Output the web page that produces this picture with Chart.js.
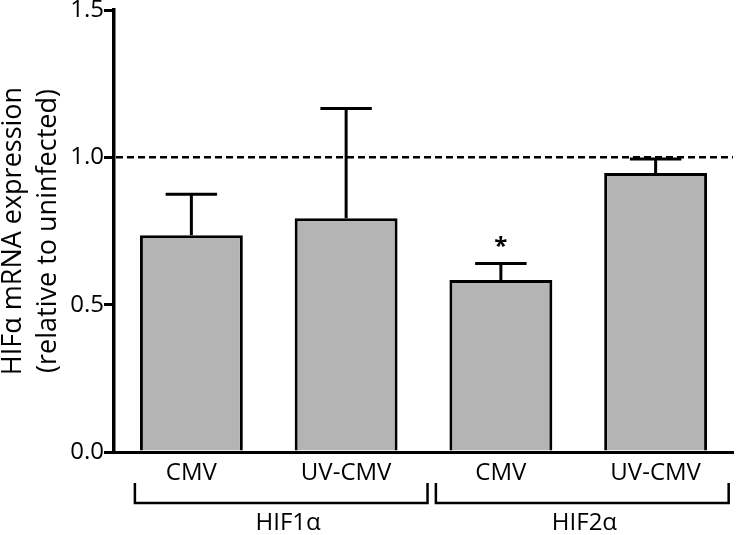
<!DOCTYPE html>
<html>
<head>
<meta charset="utf-8">
<script src="https://cdn.jsdelivr.net/npm/chart.js@4"></script>
<style>
    html, body { margin: 0; padding: 0; background: #fff; }
    #wrap { width: 736px; height: 535px; }
</style>
</head>
<body>
<div id="wrap"><canvas id="chart"></canvas></div>
<script>
// Values
const categories = ['CMV', 'UV-CMV', 'CMV', 'UV-CMV'];
const meanValues = [0.736, 0.793, 0.584, 0.947];
const semValues = [0.139, 0.373, 0.056, 0.047];
const significance = ['', '', '*', ''];
const groupLabels = ['HIF1α', 'HIF2α'];
const yTicks = [0, 0.5, 1.0, 1.5];
const referenceLevel = 1.0;

const FONT = '"Open Sans", "Noto Sans", sans-serif';

// Bracket spans under the axis, in category units
const groupSpans = [[-0.365, 1.526], [1.58, 3.472]];
const groupCenters = [0.625, 2.54];

const extras = {
    id: 'extras',
    afterDatasetsDraw(chart) {
        const { ctx, chartArea, scales: { x, y } } = chart;
        const meta = chart.getDatasetMeta(0);
        ctx.save();
        ctx.strokeStyle = '#000';
        ctx.fillStyle = '#000';
        ctx.lineWidth = 3;

        // error bars (upper only) and significance marks
        meta.data.forEach((bar, i) => {
            const top = y.getPixelForValue(meanValues[i] + semValues[i]);
            const half = bar.width / 4;
            ctx.beginPath();
            ctx.moveTo(bar.x, bar.y);
            ctx.lineTo(bar.x, top);
            ctx.moveTo(bar.x - half, top);
            ctx.lineTo(bar.x + half, top);
            ctx.stroke();
            if (significance[i]) {
                ctx.font = 'bold 24px ' + FONT;
                ctx.textAlign = 'center';
                ctx.textBaseline = 'middle';
                ctx.fillText(significance[i], bar.x, top - 16);
            }
        });

        // dashed line at the uninfected level
        const yRef = y.getPixelForValue(referenceLevel);
        ctx.lineWidth = 2.5;
        ctx.setLineDash([7, 4]);
        ctx.beginPath();
        ctx.moveTo(chartArea.left + 2, yRef);
        ctx.lineTo(chartArea.right, yRef);
        ctx.stroke();
        ctx.restore();
    },
    afterDraw(chart) {
        const { ctx, chartArea, scales: { x } } = chart;
        const yTop = chartArea.bottom + 31;
        const yLine = chartArea.bottom + 51;
        ctx.save();
        ctx.strokeStyle = '#000';
        ctx.fillStyle = '#000';
        ctx.lineWidth = 2.5;
        ctx.font = '24px ' + FONT;
        ctx.textAlign = 'center';
        ctx.textBaseline = 'middle';
        groupSpans.forEach(([a, b], i) => {
            const x0 = x.getPixelForValue(a);
            const x1 = x.getPixelForValue(b);
            ctx.beginPath();
            ctx.moveTo(x0, yTop);
            ctx.lineTo(x0, yLine);
            ctx.lineTo(x1, yLine);
            ctx.lineTo(x1, yTop);
            ctx.stroke();
            ctx.fillText(groupLabels[i], x.getPixelForValue(groupCenters[i]), chartArea.bottom + 71);
        });
        ctx.restore();
    }
};

new Chart(document.getElementById('chart'), {
    type: 'bar',
    data: {
        labels: categories,
        datasets: [{
            data: meanValues,
            backgroundColor: '#b4b4b4',
            borderColor: '#000',
            borderWidth: 3,
            barPercentage: 0.665,
            categoryPercentage: 1.0
        }]
    },
    options: {
        responsive: true,
        maintainAspectRatio: false,
        animation: false,
        layout: { padding: { top: 10, right: 3, bottom: 0, left: 0 } },
        plugins: {
            legend: { display: false },
            tooltip: { enabled: false }
        },
        scales: {
            x: {
                grid: { display: false, drawTicks: false },
                border: { display: true, color: '#000', width: 3 },
                ticks: {
                    color: '#000',
                    padding: 7,
                    font: { family: FONT, size: 24 }
                },
                afterFit: (scale) => {
                    scale.height = 83;
                    scale.paddingLeft = 0;
                    scale.paddingRight = 0;
                }
            },
            y: {
                min: 0,
                max: 1.5,
                afterBuildTicks: (scale) => {
                    scale.ticks = yTicks.map(v => ({ value: v }));
                },
                grid: {
                    drawOnChartArea: false,
                    drawTicks: true,
                    tickLength: 10,
                    color: '#000',
                    lineWidth: 3
                },
                border: { display: true, color: '#000', width: 3.5 },
                ticks: {
                    color: '#000',
                    padding: 0,
                    font: { family: FONT, size: 24 },
                    callback: (v) => Number(v).toFixed(1)
                },
                title: {
                    display: true,
                    text: ['HIFα mRNA expression', '(relative to uninfected)'],
                    color: '#000',
                    font: { family: FONT, size: 27, lineHeight: 1.3 },
                    padding: { top: -4, bottom: 0 }
                },
                afterFit: (scale) => {
                    scale.width = 114;
                    scale.paddingTop = 0;
                    scale.paddingBottom = 0;
                }
            }
        }
    },
    plugins: [extras]
});
</script>
</body>
</html>
